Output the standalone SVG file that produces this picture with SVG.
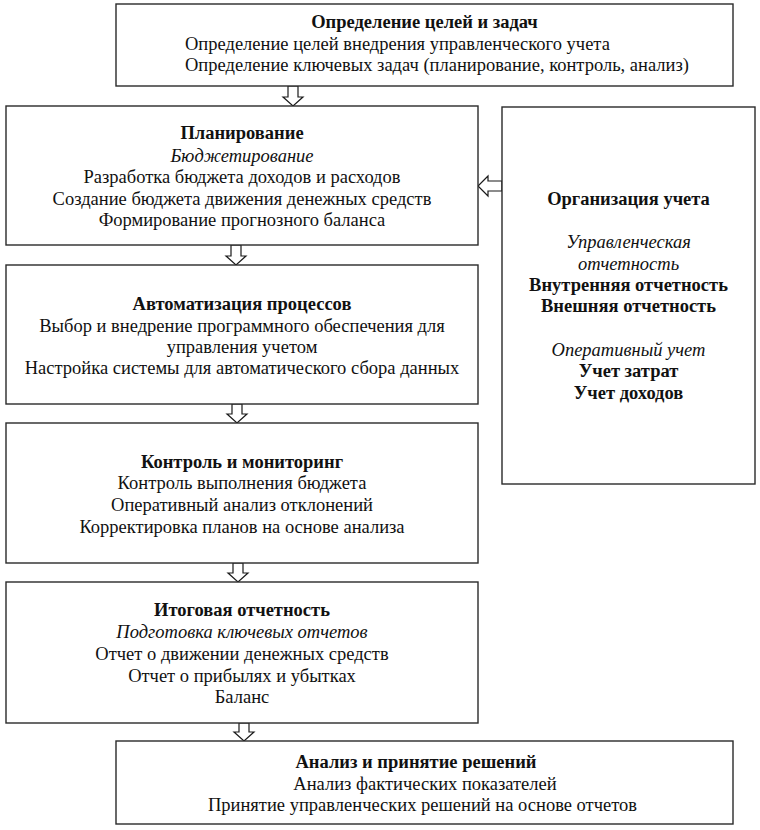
<svg xmlns="http://www.w3.org/2000/svg" width="760" height="830" viewBox="0 0 760 830">
<style>
  .box { fill: #ffffff; stroke: #2a2a2a; stroke-width: 1.4; }
  .arr { fill: #ffffff; stroke: #1a1a1a; stroke-width: 1.2; stroke-linejoin: miter; }
  text { font-family: "Liberation Serif", "Times New Roman", "DejaVu Serif", serif; font-size: 18.5px; fill: #111111; text-anchor: middle; }
  .b { font-weight: bold; }
  .i { font-style: italic; }
  .l { text-anchor: start; }
</style>
<rect width="760" height="830" fill="#ffffff"/>
<g id="connectors">
  <path class="arr" d="M288,86 L298,86 L298,97 L303,97 L293,106 L283,97 L288,97 Z"/>
  <path class="arr" d="M231,245 L241,245 L241,256 L246,256 L236,265 L226,256 L231,256 Z"/>
  <path class="arr" d="M232,404 L242,404 L242,414 L247,414 L237,423 L227,414 L232,414 Z"/>
  <path class="arr" d="M233,563 L243,563 L243,573 L248,573 L238,582 L228,573 L233,573 Z"/>
  <path class="arr" d="M239,723 L249,723 L249,732 L254,732 L244,741 L234,732 L239,732 Z"/>
  <path class="arr" d="M502,181 L488,181 L488,176 L478,186 L488,196 L488,191 L502,191 Z"/>
</g>
<g id="node-goals">
  <rect class="box" x="116" y="4" width="617" height="82"/>
  <text class="b" x="424.5" y="28">Определение целей и задач</text>
  <text class="l" x="185" y="50">Определение целей внедрения управленческого учета</text>
  <text class="l" x="185" y="71">Определение ключевых задач (планирование, контроль, анализ)</text>
</g>
<g id="node-planning">
  <rect class="box" x="6" y="106" width="472" height="139"/>
  <text class="b" x="242" y="139">Планирование</text>
  <text class="i" x="242" y="162">Бюджетирование</text>
  <text x="242" y="183">Разработка бюджета доходов и расходов</text>
  <text x="242" y="205">Создание бюджета движения денежных средств</text>
  <text x="242" y="226">Формирование прогнозного баланса</text>
</g>
<g id="node-automation">
  <rect class="box" x="6" y="265" width="472" height="139"/>
  <text class="b" x="242" y="310">Автоматизация процессов</text>
  <text x="242" y="332">Выбор и внедрение программного обеспечения для</text>
  <text x="242" y="353">управления учетом</text>
  <text x="242" y="374">Настройка системы для автоматического сбора данных</text>
</g>
<g id="node-control">
  <rect class="box" x="6" y="423" width="472" height="140"/>
  <text class="b" x="242" y="468">Контроль и мониторинг</text>
  <text x="242" y="489">Контроль выполнения бюджета</text>
  <text x="242" y="511">Оперативный анализ отклонений</text>
  <text x="242" y="533">Корректировка планов на основе анализа</text>
</g>
<g id="node-reporting">
  <rect class="box" x="6" y="582" width="472" height="141"/>
  <text class="b" x="242" y="616">Итоговая отчетность</text>
  <text class="i" x="242" y="638">Подготовка ключевых отчетов</text>
  <text x="242" y="660">Отчет о движении денежных средств</text>
  <text x="242" y="682">Отчет о прибылях и убытках</text>
  <text x="242" y="703">Баланс</text>
</g>
<g id="node-analysis">
  <rect class="box" x="116" y="741" width="617" height="83"/>
  <text class="b" x="416" y="768">Анализ и принятие решений</text>
  <text x="425" y="790">Анализ фактических показателей</text>
  <text x="422.5" y="811">Принятие управленческих решений на основе отчетов</text>
</g>
<g id="node-organization">
  <rect class="box" x="502" y="107" width="253" height="377"/>
  <text class="b" x="628.5" y="205">Организация учета</text>
  <text class="i" x="628.5" y="248">Управленческая</text>
  <text class="i" x="628.5" y="270">отчетность</text>
  <text class="b" x="628.5" y="291">Внутренняя отчетность</text>
  <text class="b" x="628.5" y="312">Внешняя отчетность</text>
  <text class="i" x="628.5" y="356">Оперативный учет</text>
  <text class="b" x="628.5" y="377">Учет затрат</text>
  <text class="b" x="628.5" y="399">Учет доходов</text>
</g>
</svg>
